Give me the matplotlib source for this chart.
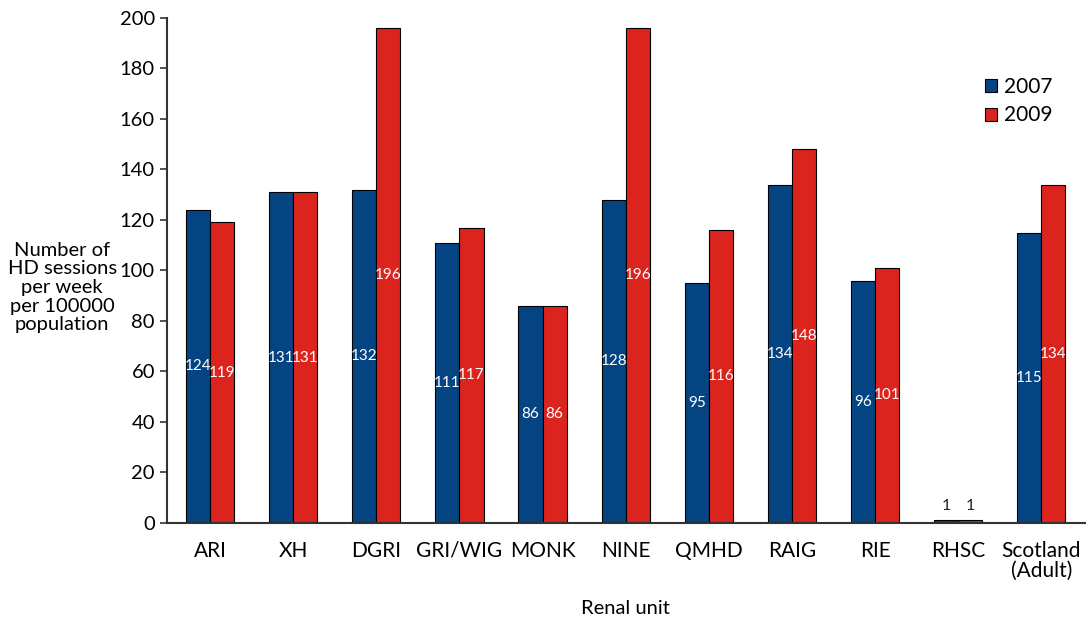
import matplotlib.pyplot as plt
import numpy as np

plt.rcParams['font.family'] = ['Lato', 'DejaVu Sans']

units = ["ARI", "XH", "DGRI", "GRI/WIG", "MONK", "NINE", "QMHD", "RAIG",
         "RIE", "RHSC", "Scotland\n(Adult)"]
sessions_2007 = [124, 131, 132, 111, 86, 128, 95, 134, 96, 1, 115]
sessions_2009 = [119, 131, 196, 117, 86, 196, 116, 148, 101, 1, 134]
years = ["2007", "2009"]

blue = "#054482"
red = "#dc241e"

fig = plt.figure(figsize=(10.9, 6.21), dpi=100)
ax = fig.add_axes([0.153, 0.158, 0.842, 0.813])

x = np.arange(len(units))
w = 0.29
for vals, off, col, yr in [(sessions_2007, -w / 2, blue, years[0]),
                           (sessions_2009, w / 2, red, years[1])]:
    bars = ax.bar(x + off, vals, w, color=col, edgecolor="black",
                  linewidth=0.8, label=yr)
    for b, v in zip(bars, vals):
        cx = b.get_x() + b.get_width() / 2
        if v < 10:
            ax.text(cx, v + 3, str(v), ha="center", va="bottom",
                    fontsize=11.5, color="#222222")
        else:
            ax.text(cx, v / 2, str(v), ha="center", va="center",
                    fontsize=11, color="white")

ax.set_xlim(-0.52, 10.52)
ax.set_ylim(0, 200)
ax.set_yticks(np.arange(0, 201, 20))
ax.set_xticks(x)
ax.set_xticklabels(units, fontsize=15, linespacing=1.0)
ax.tick_params(axis="x", length=0, pad=13)
ax.tick_params(axis="y", labelsize=14.5, length=5, width=1.2, color="#333333")
for s in ["top", "right"]:
    ax.spines[s].set_visible(False)
for s in ["left", "bottom"]:
    ax.spines[s].set_linewidth(1.5)
    ax.spines[s].set_color("#333333")

ax.set_xlabel("Renal unit", fontsize=14.5, labelpad=14)
fig.text(0.057, 0.537, "Number of\nHD sessions\nper week\nper 100000\npopulation",
         ha="center", va="center", fontsize=14.5, linespacing=1.12)

ax.legend(loc="upper right", bbox_to_anchor=(0.985, 0.92), frameon=False,
          fontsize=15, handlelength=0.6, handleheight=0.6, handletextpad=0.3,
          labelspacing=0.4)

fig.savefig("out.png", dpi=100)
